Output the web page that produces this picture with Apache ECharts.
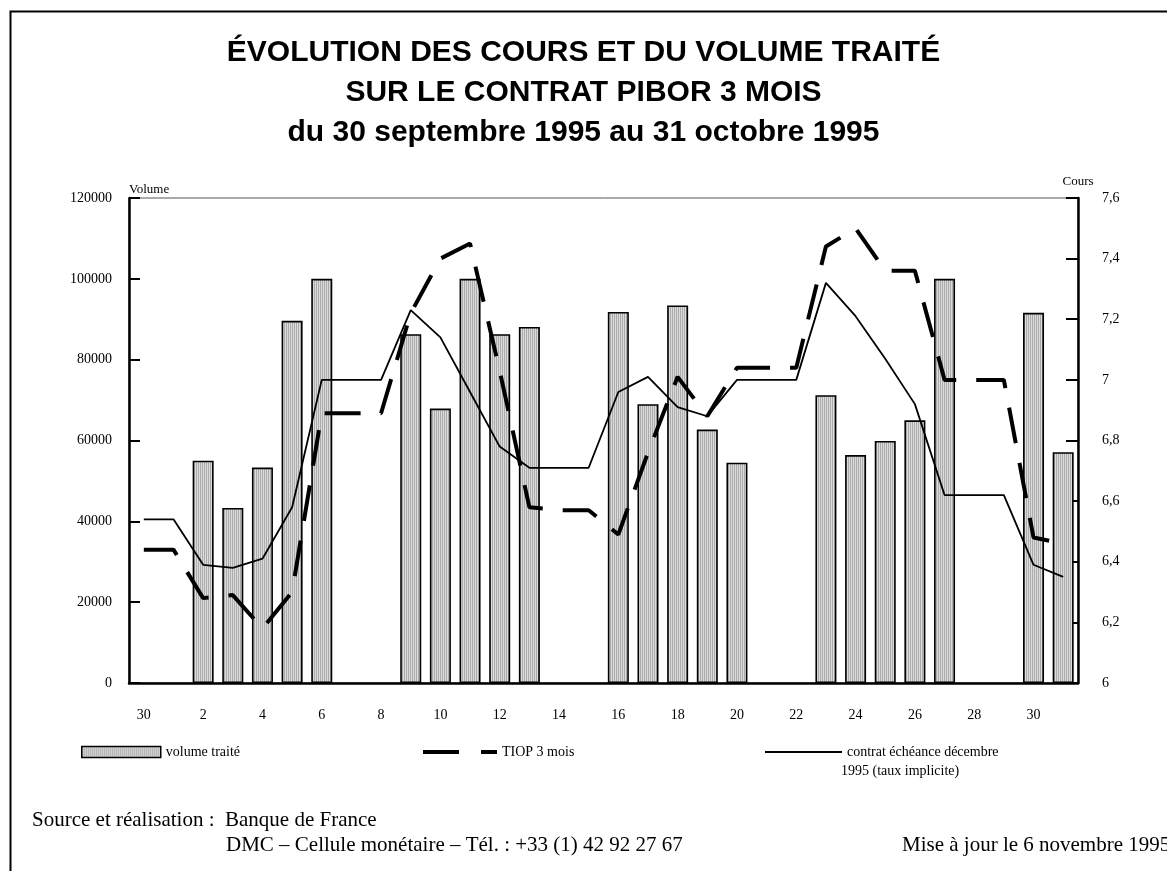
<!DOCTYPE html>
<html>
<head>
<meta charset="utf-8">
<title>PIBOR 3 mois</title>
<script src="https://cdn.jsdelivr.net/npm/echarts@6/dist/echarts.min.js"></script>
<style>
  html, body { margin: 0; padding: 0; background: #fff; }
  #chart { width: 1167px; height: 871px; }
</style>
</head>
<body>
<div id="chart"></div>
<script>
// jours du 30 septembre au 31 octobre 1995
const days = ['30', '1', '2', '3', '4', '5', '6', '7', '8', '9', '10', '11', '12', '13', '14', '15',
  '16', '17', '18', '19', '20', '21', '22', '23', '24', '25', '26', '27', '28', '29', '30', '31'];

// volume traité (pas de séance le week-end)
const volume = [null, null, 55000, 43300, 53300, 89600, 100000, null, null, 86300, 67900, 100000,
  86300, 88100, null, null, 91800, 69000, 93400, 62700, 54500, null, null, 71200, 56400, 59900,
  65000, 100000, null, null, 91600, 57100];

// TIOP 3 mois
const tiop = [6.44, 6.44, 6.28, 6.29, 6.18, 6.30, 6.89, 6.89, 6.89, 7.22, 7.40, 7.45, 7.03, 6.58,
  6.57, 6.57, 6.49, 6.76, 7.01, 6.88, 7.04, 7.04, 7.04, 7.44, 7.50, 7.36, 7.36, 7.00, 7.00, 7.00,
  6.48, 6.46];

// contrat échéance décembre 1995 (taux implicite)
const contrat = [6.54, 6.54, 6.39, 6.38, 6.41, 6.58, 7.00, 7.00, 7.00, 7.23, 7.14, 6.96, 6.78, 6.71,
  6.71, 6.71, 6.96, 7.01, 6.91, 6.88, 7.00, 7.00, 7.00, 7.32, 7.21, 7.07, 6.92, 6.62, 6.62, 6.62,
  6.39, 6.35];

const serif = 'Liberation Serif';
const sans = 'Liberation Sans';
const footFont = '21px "Liberation Serif"';

// motif rayé des barres
function stripes() {
  const c = document.createElement('canvas');
  c.width = 2; c.height = 1;
  const ctx = c.getContext('2d');
  ctx.fillStyle = '#ababab'; ctx.fillRect(0, 0, 1, 1);
  ctx.fillStyle = '#dcdcdc'; ctx.fillRect(1, 0, 1, 1);
  return c;
}
const hatch = { image: stripes(), repeat: 'repeat' };

const chart = echarts.init(document.getElementById('chart'));

const legendText = { fontFamily: serif, fontSize: 14, color: '#000' };
// pas de symbole sur les icônes de ligne
const noSymbol = { color: 'rgba(0,0,0,0)', borderWidth: 0, opacity: 0 };

chart.setOption({
  animation: false,
  backgroundColor: '#fff',
  title: {
    text: 'ÉVOLUTION DES COURS ET DU VOLUME TRAITÉ\nSUR LE CONTRAT PIBOR 3 MOIS\ndu 30 septembre 1995 au 31 octobre 1995',
    left: 'center',
    top: 28,
    textStyle: { fontFamily: sans, fontWeight: 'bold', fontSize: 30, lineHeight: 40, color: '#000' }
  },
  legend: [
    {
      data: [{ name: 'volume traité', icon: 'rect' }], left: 76, top: 740, itemWidth: 79, itemHeight: 11,
      itemStyle: { borderColor: '#000', borderWidth: 1.5 },
      textStyle: legendText
    },
    {
      data: ['TIOP 3 mois'], left: 416, top: 740, itemWidth: 74, itemHeight: 11,
      itemStyle: noSymbol,
      lineStyle: { color: '#000', width: 4, type: [36, 22] },
      textStyle: legendText
    },
    {
      data: ['contrat échéance décembre 1995 (taux implicite)'], left: 759, top: 740,
      itemWidth: 77, itemHeight: 11,
      itemStyle: noSymbol,
      lineStyle: { color: '#000', width: 2 },
      formatter: function () { return 'contrat échéance décembre'; },
      textStyle: legendText
    }
  ],
  grid: {
    left: 129, right: 89, top: 198, bottom: 188,
    show: true, borderColor: '#555', borderWidth: 1
  },
  xAxis: {
    type: 'category',
    data: days,
    axisLine: { lineStyle: { color: '#000', width: 2.5 } },
    axisTick: { inside: true, length: 6, interval: 0, lineStyle: { color: '#000', width: 2 } },
    axisLabel: { interval: 1, margin: 25, fontFamily: serif, fontSize: 14, color: '#000' }
  },
  yAxis: [
    {
      type: 'value', min: 0, max: 120000, interval: 20000,
      name: 'Volume', nameLocation: 'end', nameGap: 2,
      nameTextStyle: { fontFamily: serif, fontSize: 13, color: '#000', align: 'left' },
      axisLine: { show: true, lineStyle: { color: '#000', width: 2.5 } },
      axisTick: { show: true, inside: true, length: 11, lineStyle: { color: '#000', width: 2 } },
      axisLabel: {
        margin: 17, fontFamily: serif, fontSize: 14, color: '#000',
        formatter: function (v) { return String(v); }
      },
      splitLine: { show: false }
    },
    {
      type: 'value', min: 6, max: 7.6, interval: 0.2, position: 'right',
      name: 'Cours', nameLocation: 'end', nameGap: 10,
      nameTextStyle: { fontFamily: serif, fontSize: 13, color: '#000', align: 'center' },
      axisLine: { show: true, lineStyle: { color: '#000', width: 2.5 } },
      axisTick: { show: true, inside: true, length: 12, lineStyle: { color: '#000', width: 2 } },
      axisLabel: {
        margin: 24, fontFamily: serif, fontSize: 14, color: '#000',
        formatter: function (v) { return String(+v.toFixed(1)).replace('.', ','); }
      },
      splitLine: { show: false }
    }
  ],
  series: [
    {
      name: 'volume traité',
      type: 'bar',
      yAxisIndex: 0,
      data: volume,
      barWidth: 21,
      itemStyle: { color: hatch, borderColor: '#000', borderWidth: 1.6 }
    },
    {
      name: 'TIOP 3 mois',
      type: 'line',
      yAxisIndex: 1,
      data: tiop,
      symbol: 'none',
      lineStyle: { color: '#000', width: 4, type: [36, 20] },
      itemStyle: { color: '#000' },
      z: 3
    },
    {
      name: 'contrat échéance décembre 1995 (taux implicite)',
      type: 'line',
      yAxisIndex: 1,
      data: contrat,
      symbol: 'none',
      lineStyle: { color: '#000', width: 1.8 },
      itemStyle: { color: '#000' },
      z: 4
    }
  ],
  graphic: [
    // cadre extérieur
    {
      type: 'rect', left: 8, top: 9, silent: true,
      shape: { width: 1200, height: 900 },
      style: { fill: 'none', stroke: '#000', lineWidth: 2 }
    },
    // suite de la légende du contrat
    {
      type: 'text', left: 841, top: 764,
      style: { text: '1995 (taux implicite)', font: '14px "Liberation Serif"', fill: '#000' }
    },
    {
      type: 'text', left: 32, top: 810,
      style: { text: 'Source et réalisation :  Banque de France', font: footFont, fill: '#000' }
    },
    {
      type: 'text', left: 226, top: 835,
      style: { text: 'DMC – Cellule monétaire – Tél. : +33 (1) 42 92 27 67', font: footFont, fill: '#000' }
    },
    {
      type: 'text', left: 902, top: 835,
      style: { text: 'Mise à jour le 6 novembre 1995', font: footFont, fill: '#000' }
    }
  ]
});
</script>
</body>
</html>
